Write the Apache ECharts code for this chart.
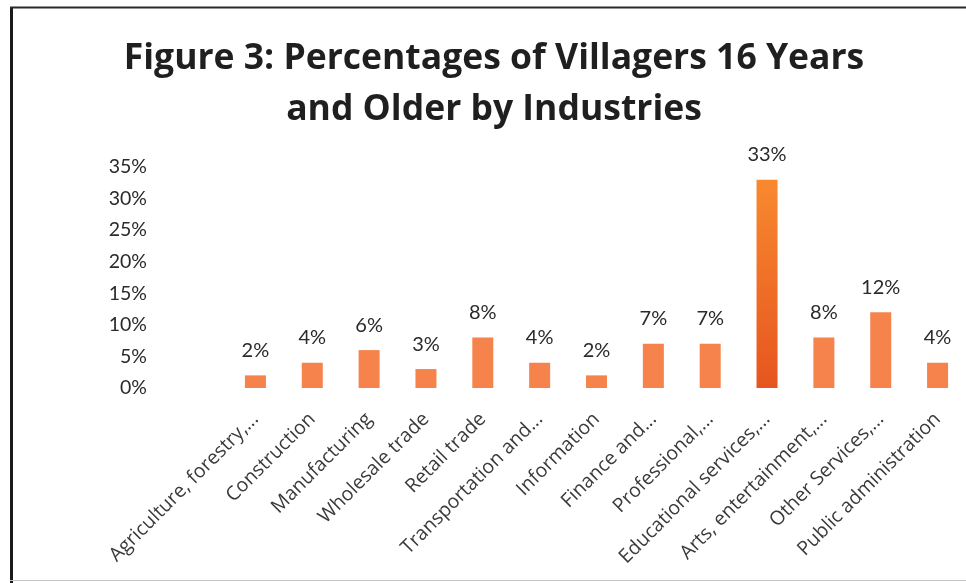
<!DOCTYPE html>
<html>
<head>
<meta charset="utf-8">
<title>Figure 3</title>
<script src="https://cdn.jsdelivr.net/npm/echarts@6/dist/echarts.min.js"></script>
<style>
  html, body { margin: 0; padding: 0; background: #ffffff; }
  #chart { width: 966px; height: 583px; }
</style>
</head>
<body>
<div id="chart"></div>
<script>
// Industry categories (long names shortened with an ellipsis)
const industries = [
  'Agriculture, forestry,...',
  'Construction',
  'Manufacturing',
  'Wholesale trade',
  'Retail trade',
  'Transportation and...',
  'Information',
  'Finance and...',
  'Professional,...',
  'Educational services,...',
  'Arts, entertainment,...',
  'Other Services,...',
  'Public administration'
];

// Share of villagers 16 years and older in each industry (%)
const shares = [2, 4, 6, 3, 8, 4, 2, 7, 7, 33, 8, 12, 4];

// Y axis range and step (%)
const yMin = 0;
const yMax = 35;
const yStep = 5;

// The largest group gets its own shaded fill
const highlightIndex = shares.indexOf(Math.max(...shares));

const baseColor = '#F5834B';
const highlightColor = new echarts.graphic.LinearGradient(0, 0, 0, 1, [
  { offset: 0, color: '#F8892F' },
  { offset: 1, color: '#E6551F' }
]);

const chart = echarts.init(document.getElementById('chart'), null, { renderer: 'canvas' });

const textFont = '"Open Sans", sans-serif';
const numberFont = 'Lato, "Open Sans", sans-serif';

chart.setOption({
  backgroundColor: '#ffffff',
  animation: false,
  title: {
    text: 'Figure 3: Percentages of Villagers 16 Years\nand Older by Industries',
    left: 489,
    top: 28,
    textAlign: 'center',
    textStyle: {
      fontFamily: textFont,
      fontWeight: 'bold',
      fontSize: 35.5,
      lineHeight: 51,
      color: '#1f1f1f'
    }
  },
  grid: {
    left: 227,
    right: -1,
    top: 167,
    bottom: 195
  },
  xAxis: {
    type: 'category',
    data: industries,
    axisLine: { show: false },
    axisTick: { show: false },
    axisLabel: {
      rotate: 45,
      interval: 0,
      margin: 28,
      fontFamily: textFont,
      fontSize: 19.5,
      color: '#3a3a3a'
    }
  },
  yAxis: {
    type: 'value',
    min: yMin,
    max: yMax,
    interval: yStep,
    axisLine: { show: false },
    axisTick: { show: false },
    splitLine: { show: false },
    axisLabel: {
      formatter: '{value}%',
      margin: 80,
      fontFamily: numberFont,
      fontSize: 19.5,
      color: '#2a2a2a'
    }
  },
  series: [{
    type: 'bar',
    barWidth: 21,
    data: shares.map((v, i) => ({
      value: v,
      itemStyle: { color: i === highlightIndex ? highlightColor : baseColor }
    })),
    label: {
      show: true,
      position: 'top',
      distance: 15,
      formatter: '{c}%',
      fontFamily: numberFont,
      fontSize: 20,
      color: '#2a2a2a'
    }
  }],
  graphic: [
    // frame around the figure
    { type: 'line', shape: { x1: 11.5, y1: 7, x2: 11.5, y2: 583 }, style: { stroke: '#1a1a1a', lineWidth: 3 } },
    { type: 'line', shape: { x1: 10, y1: 7.5, x2: 966, y2: 7.5 }, style: { stroke: '#2a2a2a', lineWidth: 2 } },
    { type: 'line', shape: { x1: 10, y1: 580.5, x2: 966, y2: 580.5 }, style: { stroke: '#c4c4c4', lineWidth: 1 } }
  ]
});
</script>
</body>
</html>
